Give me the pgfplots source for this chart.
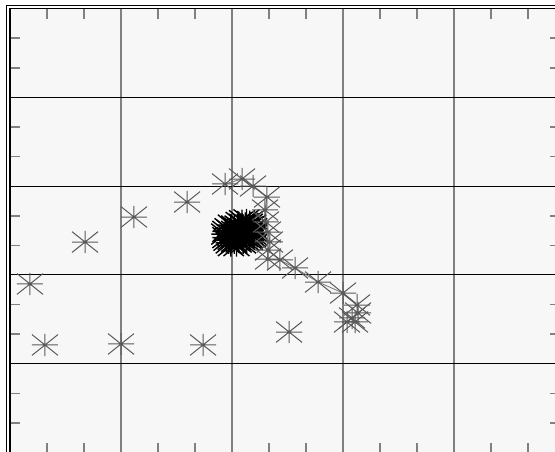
\documentclass[border=0pt]{standalone}
\usepackage{pgfplots}
\pgfplotsset{compat=1.18}
\pgfdeclareplotmark{ast8}{%
  \pgfpathmoveto{\pgfqpoint{-\pgfplotmarksize}{0pt}}\pgfpathlineto{\pgfqpoint{\pgfplotmarksize}{0pt}}%
  \pgfpathmoveto{\pgfqpoint{0pt}{-0.85\pgfplotmarksize}}\pgfpathlineto{\pgfqpoint{0pt}{0.85\pgfplotmarksize}}%
  \pgfpathmoveto{\pgfqpoint{-\pgfplotmarksize}{-0.8\pgfplotmarksize}}\pgfpathlineto{\pgfqpoint{\pgfplotmarksize}{0.8\pgfplotmarksize}}%
  \pgfpathmoveto{\pgfqpoint{-\pgfplotmarksize}{0.8\pgfplotmarksize}}\pgfpathlineto{\pgfqpoint{\pgfplotmarksize}{-0.8\pgfplotmarksize}}%
  \pgfusepathqstroke}
\begin{document}
\begin{tikzpicture}[x=1pt,y=1pt]
\useasboundingbox (0,0) rectangle (555,-452);
\clip (0,0) rectangle (555,-452);
\fill[white] (0,0) rectangle (555,-452);
\draw[line width=1.4pt] (6.5,-5.5) rectangle (620,-520);
\begin{axis}[
  at={(10pt,-452.5pt)}, anchor=south west,
  scale only axis, width=549.5pt, height=444pt,
  xmin=0, xmax=4.95, ymin=0, ymax=5,
  xtick={1,2,3,4}, ytick={1,2,3,4},
  xticklabels={}, yticklabels={},
  minor xtick={0.3333,0.6667,1.3333,1.6667,2.3333,2.6667,3.3333,3.6667,4.3333,4.6667},
  minor ytick={0.3333,0.6667,1.3333,1.6667,2.3333,2.6667,3.3333,3.6667,4.3333,4.6667},
  major tick length=0pt, minor tick length=10pt,
  minor tick style={black!50, line width=1.6pt},
  xmajorgrids, ymajorgrids,
  major x grid style={black!50, line width=2pt},
  major y grid style={black, line width=0.9pt},
  axis line style={line width=1.4pt},
  axis background/.style={fill=black!3},
]
% dense cluster
\addplot[only marks, mark=ast8, mark size=13pt, mark options={solid, draw=black, line width=1.4pt}] coordinates {
(2.06,2.59) (2.09,2.61) (2.13,2.62) (2.16,2.60)
(1.99,2.56) (2.02,2.55) (2.05,2.55) (2.09,2.57) (2.12,2.58) (2.16,2.57) (2.19,2.56)
(1.96,2.52) (2.02,2.53) (2.06,2.54) (2.09,2.52) (2.13,2.53) (2.16,2.54) (2.20,2.52)
(1.94,2.49) (1.98,2.50) (2.02,2.49) (2.05,2.48) (2.09,2.50) (2.12,2.49) (2.17,2.50) (2.21,2.48)
(1.93,2.46) (1.98,2.45) (2.01,2.47) (2.05,2.46) (2.09,2.45) (2.13,2.46) (2.16,2.47) (2.20,2.45)
(1.94,2.42) (1.98,2.42) (2.02,2.43) (2.06,2.44) (2.09,2.42) (2.12,2.43) (2.16,2.42) (2.19,2.43)
(1.95,2.39) (1.99,2.40) (2.02,2.38) (2.05,2.39) (2.09,2.40) (2.13,2.39) (2.16,2.40)
(1.97,2.36) (2.02,2.36) (2.06,2.37) (2.10,2.36)
(1.99,2.33) (2.04,2.33)
};
% trajectory
\addplot[solid, draw=black!55, line width=0.8pt, mark=ast8, mark size=13pt, mark options={solid, draw=black!65, line width=1pt}] coordinates {
(1.937,3.024) (2.090,3.080) (2.189,3.001) (2.315,2.877) (2.297,2.731) (2.306,2.596)
(2.324,2.483) (2.342,2.371) (2.324,2.280) (2.324,2.179) (2.432,2.168) (2.568,2.078)
(2.775,1.920) (3.000,1.796) (3.126,1.661) (3.135,1.571) (3.036,1.470) (3.108,1.470) (3.081,1.515)
};
% isolated points
\addplot[only marks, mark=ast8, mark size=13pt, mark options={solid, draw=black!65, line width=1pt}] coordinates {
(0.180,1.898) (0.315,1.211) (0.676,2.370) (1.000,1.222) (1.117,2.652) (1.595,2.821) (1.739,1.211) (2.514,1.357)
};
\end{axis}
\end{tikzpicture}
\end{document}
